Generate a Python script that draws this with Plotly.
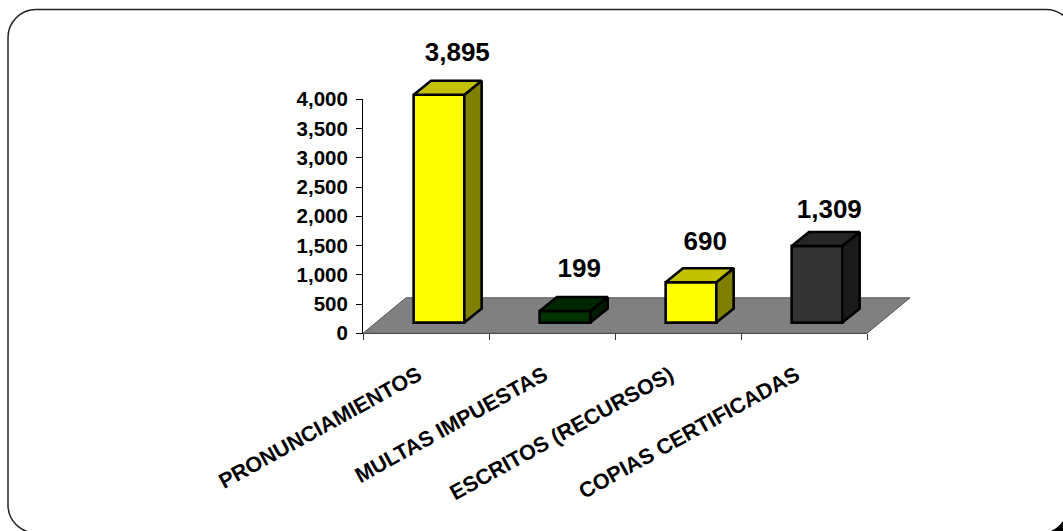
import plotly.graph_objects as go

# ---------- data ----------
categories = ["PRONUNCIAMIENTOS", "MULTAS IMPUESTAS", "ESCRITOS (RECURSOS)", "COPIAS CERTIFICADAS"]
values = [3895, 199, 690, 1309]
front_colors = ["#FFFF00", "#003300", "#FFFF00", "#333333"]
top_colors = ["#C2C200", "#002600", "#C2C200", "#262626"]
side_colors = ["#808000", "#001A00", "#808000", "#1A1A1A"]
y_ticks = [0, 500, 1000, 1500, 2000, 2500, 3000, 3500, 4000]

# ---------- layout geometry (pixels of the 1063x531 page) ----------
W, H = 1063, 531
PX0, PX1 = 363.0, 867.0      # x axis extent
PY0, PY1 = 333.3, 99.3       # y axis extent (0 and 4000)
CAT_PX = (PX1 - PX0) / 4
VAL_PX = (PY0 - PY1) / 4000
FONT = "Liberation Sans"

def dx(px):
    return px / CAT_PX

def dy(px):
    return px / VAL_PX

positions = list(range(len(categories)))
bar_w = dx(50.7)
front_dx, front_dy = dx(13.0), dy(10.7)     # bars stand inside the floor
depth_dx, depth_dy = dx(17.3), dy(14.0)     # depth of each bar
floor_dx, floor_dy = dx(43.0), dy(35.5)     # depth of the floor
label_nudge_x = [1, -3, -3, -5]             # small label offsets, pixels
label_gap = [26, 26, 25, 21]                # gap above the bar's back edge, pixels

fig = go.Figure()

# front faces: real bars on the full-page overlay axes
fig.add_trace(go.Bar(
    x=[p + front_dx for p in positions], y=values, base=front_dy, width=bar_w,
    marker=dict(color=front_colors, line=dict(color="black", width=2.6)),
    xaxis="x2", yaxis="y2", hoverinfo="skip", showlegend=False,
))

# side and top faces
for p, v, tc, sc in zip(positions, values, top_colors, side_colors):
    xl = p + front_dx - bar_w / 2
    xr = p + front_dx + bar_w / 2
    yb = front_dy
    yt = front_dy + v
    fig.add_trace(go.Scatter(
        x=[xr, xr + depth_dx, xr + depth_dx, xr, xr],
        y=[yb, yb + depth_dy, yt + depth_dy, yt, yb],
        mode="lines", fill="toself", fillcolor=sc,
        line=dict(color="black", width=2.6), xaxis="x2", yaxis="y2",
        hoverinfo="skip", showlegend=False,
    ))
    fig.add_trace(go.Scatter(
        x=[xl, xl + depth_dx, xr + depth_dx, xr, xl],
        y=[yt, yt + depth_dy, yt + depth_dy, yt, yt],
        mode="lines", fill="toself", fillcolor=tc,
        line=dict(color="black", width=2.6), xaxis="x2", yaxis="y2",
        hoverinfo="skip", showlegend=False,
    ))

# value labels
fig.add_trace(go.Scatter(
    x=[p + front_dx + depth_dx + dx(n) for p, n in zip(positions, label_nudge_x)],
    y=[front_dy + depth_dy + v + dy(g) for v, g in zip(values, label_gap)],
    text=[f"{v:,}" for v in values],
    mode="text", textposition="middle center",
    textfont=dict(family=FONT, size=26, color="black", weight="bold"),
    xaxis="x2", yaxis="y2", hoverinfo="skip", showlegend=False, cliponaxis=False,
))

# anchor for the visible axes
fig.add_trace(go.Scatter(x=positions, y=values, mode="none", hoverinfo="skip", showlegend=False))

# floor parallelogram, under the bars
x_lo, x_hi = -0.5, len(categories) - 0.5
floor_path = (
    f"M {x_lo},0 L {x_hi},0 L {x_hi + floor_dx},{floor_dy} "
    f"L {x_lo + floor_dx},{floor_dy} Z"
)

def pp(x, y):
    return f"{x / W:.5f},{1 - y / H:.5f}"

# rounded outer frame, running off the page on the right and bottom
L, T, R, B, r = 8.0, 9.5, 1074.0, 533.0, 28.0
k = 0.45 * r
frame_path = (
    f"M {pp(L + r, T)} L {pp(R - r, T)} "
    f"C {pp(R - k, T)} {pp(R, T + k)} {pp(R, T + r)} "
    f"L {pp(R, B - r)} C {pp(R, B - k)} {pp(R - k, B)} {pp(R - r, B)} "
    f"L {pp(L + r, B)} C {pp(L + k, B)} {pp(L, B - k)} {pp(L, B - r)} "
    f"L {pp(L, T + r)} C {pp(L, T + k)} {pp(L + k, T)} {pp(L + r, T)} Z"
)
corner_path = (
    f"M {pp(1051, 531)} Q {pp(1058, 528)} {pp(1063, 521)} L {pp(1063, 531)} Z"
)

fig.update_layout(
    width=W, height=H, autosize=False,
    margin=dict(l=0, r=0, t=0, b=0),
    paper_bgcolor="white", plot_bgcolor="rgba(0,0,0,0)",
    showlegend=False,
    xaxis=dict(
        domain=[PX0 / W, PX1 / W], range=[x_lo, x_hi], automargin=False,
        tickmode="array", tickvals=positions, ticktext=categories,
        tickangle=-29, ticks="", showgrid=False, zeroline=False,
        showline=True, linecolor="black", linewidth=1,
        tickfont=dict(family=FONT, size=21.5, color="black", weight="bold"),
        ticklabelstandoff=20, ticklabelshift=-8,
        minor=dict(tickvals=[x_lo + i for i in range(len(categories) + 1)],
                   ticks="outside", ticklen=6, tickwidth=1, tickcolor="#333333", showgrid=False),
        anchor="y",
    ),
    yaxis=dict(
        domain=[1 - PY0 / H, 1 - PY1 / H], range=[0, 4000], automargin=False,
        tickmode="array", tickvals=y_ticks, tickformat=",",
        ticks="outside", ticklen=6, tickwidth=1, tickcolor="black",
        showgrid=False, zeroline=False, showline=True, linecolor="black", linewidth=1,
        tickfont=dict(family=FONT, size=20.5, color="black", weight="bold"),
        ticklabelstandoff=4,
        anchor="x",
    ),
    xaxis2=dict(
        domain=[0, 1], range=[x_lo - PX0 / CAT_PX, x_lo + (W - PX0) / CAT_PX],
        visible=False, anchor="y2", fixedrange=True, automargin=False,
    ),
    yaxis2=dict(
        domain=[0, 1], range=[-(H - PY0) / VAL_PX, PY0 / VAL_PX],
        visible=False, anchor="x2", fixedrange=True, automargin=False,
    ),
    shapes=[
        dict(type="path", path=floor_path, xref="x2", yref="y2", layer="below",
             fillcolor="#808080", line=dict(color="#555555", width=1)),
        dict(type="path", path=frame_path, xref="paper", yref="paper", layer="below",
             line=dict(color="#222222", width=1.5), fillcolor="rgba(0,0,0,0)"),
        dict(type="path", path=corner_path, xref="paper", yref="paper", layer="below",
             line=dict(color="black", width=0), fillcolor="black"),
    ],
)

fig.write_html("out.html", config={"displayModeBar": False},
               post_script="document.body.style.margin='0';document.body.style.overflow='hidden';")
